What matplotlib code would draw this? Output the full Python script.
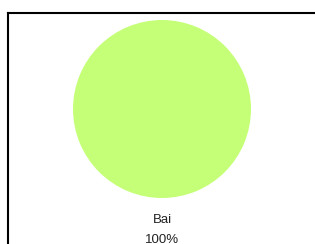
import matplotlib
matplotlib.use("Agg")
import matplotlib.pyplot as plt
from matplotlib.lines import Line2D

categories = ["Bai"]
values = [100]
colors = ["#c5ff77"]

W, H = 315, 244
fig = plt.figure(figsize=(W / 100, H / 100), dpi=100)
ax = fig.add_axes([0, 0, 1, 1])
ax.set_xlim(0, W)
ax.set_ylim(0, H)
ax.set_aspect("equal")
ax.axis("off")

cx, cy, r = 162, H - 109, 89
wedges, texts, autotexts = ax.pie(
    values, labels=categories, colors=colors, autopct="%1.0f%%",
    startangle=90, center=(cx, cy), radius=r, frame=True,
    labeldistance=1.245, pctdistance=1.47,
    textprops=dict(family="Liberation Sans", fontsize=9.5, color="#222222"),
)
ax.set_xlim(0, W)
ax.set_ylim(0, H)
ax.axis("off")
for t in texts + autotexts:
    t.set_horizontalalignment("center")
    t.set_verticalalignment("center")

# frame lines (left and top)
fig.add_artist(Line2D([7.5 / W, 7.5 / W], [0, 1 - 12.5 / H], color="black", lw=1.5,
                      transform=fig.transFigure, solid_capstyle="projecting"))
fig.add_artist(Line2D([7.5 / W, 1], [1 - 12.5 / H, 1 - 12.5 / H], color="black", lw=1.5,
                      transform=fig.transFigure, solid_capstyle="projecting"))

fig.savefig("out.png", dpi=100)
